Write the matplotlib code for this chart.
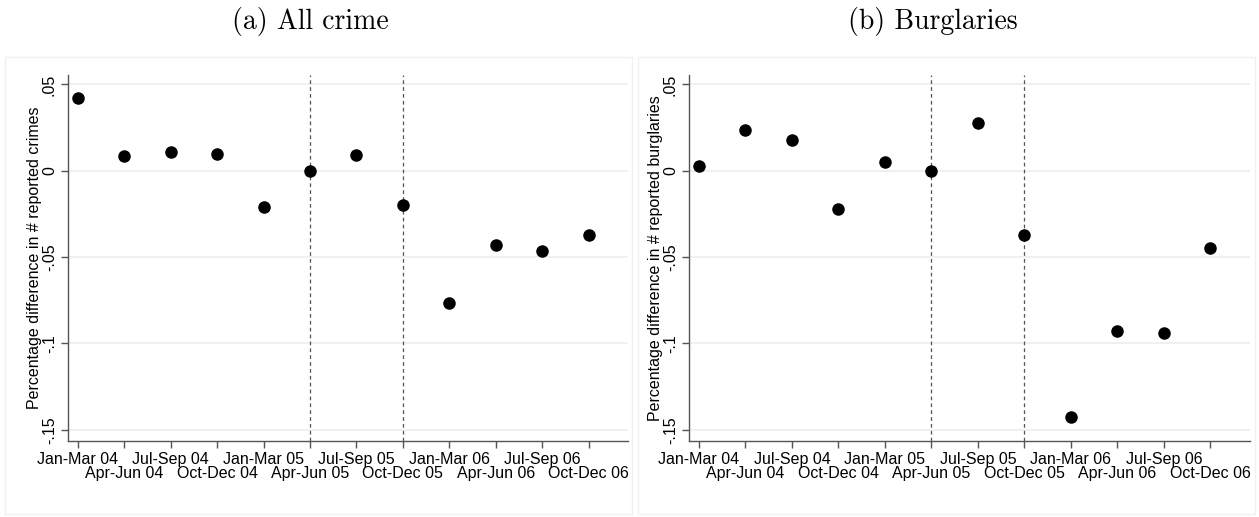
import matplotlib
matplotlib.use("Agg")
import matplotlib.pyplot as plt
from matplotlib.patches import Rectangle

quarters = ["Jan-Mar 04", "Apr-Jun 04", "Jul-Sep 04", "Oct-Dec 04",
            "Jan-Mar 05", "Apr-Jun 05", "Jul-Sep 05", "Oct-Dec 05",
            "Jan-Mar 06", "Apr-Jun 06", "Jul-Sep 06", "Oct-Dec 06"]
all_crime = [0.0422, 0.0087, 0.0110, 0.0098, -0.0208, 0.0, 0.0092, -0.0197,
             -0.0763, -0.0428, -0.0462, -0.0370]
burglaries = [0.0029, 0.0237, 0.0179, -0.0220, 0.0052, 0.0, 0.0277, -0.0370,
              -0.1428, -0.0925, -0.0942, -0.0445]
yticks = [0.05, 0.0, -0.05, -0.1, -0.15]
ytick_labels = [".05", "0", "-.05", "-.1", "-.15"]
vlines_at = ["Apr-Jun 05", "Oct-Dec 05"]
titles = ["(a) All crime", "(b) Burglaries"]
ylabels = ["Percentage difference in # reported crimes",
           "Percentage difference in # reported burglaries"]

W, H = 1259, 517
fig = plt.figure(figsize=(W / 100, H / 100), dpi=100)
fig.patch.set_facecolor("white")

def fx(px): return px / W
def fy(py): return 1 - py / H

# faint panel frames
for x0, x1 in [(5, 632), (638, 1255)]:
    fig.patches.append(Rectangle((fx(x0), fy(514)), fx(x1 - x0), (514 - 57) / H,
                                 transform=fig.transFigure, fill=False,
                                 edgecolor="#eef1f3", linewidth=1.0))

panels = [(68, 628, all_crime), (689, 1250, burglaries)]
tick_font = "Liberation Sans"
fs = 11.5
for i, (xl, xr, vals) in enumerate(panels):
    ax = fig.add_axes([fx(xl), fy(441), fx(xr - xl), (441 - 75) / H])
    x = list(range(len(quarters)))
    ax.set_xlim(-0.215, 11.85)
    ax.set_ylim(-0.1565, 0.0555)
    for yt in yticks:
        ax.axhline(yt, color="#e8f0f2", linewidth=1.2, zorder=0)
    for q in vlines_at:
        ax.axvline(quarters.index(q), color="#555555", linestyle=(0, (3, 2.5)),
                   linewidth=0.9, zorder=1)
    ax.plot(x, vals, "o", color="black", markersize=8, zorder=3)
    even = x[0::2]
    odd = x[1::2]
    ax.set_xticks(even)
    ax.set_xticklabels([quarters[k] for k in even], fontfamily=tick_font, fontsize=fs)
    ax.set_xticks(odd, minor=True)
    ax.set_xticklabels([quarters[k] for k in odd], minor=True,
                       fontfamily=tick_font, fontsize=fs)
    ax.set_yticks(yticks)
    ax.set_yticklabels(ytick_labels, rotation=90, va="center",
                       fontfamily=tick_font, fontsize=fs)
    ax.set_ylabel(ylabels[i], fontfamily=tick_font, fontsize=fs, labelpad=0)
    for s in ["top", "right"]:
        ax.spines[s].set_visible(False)
    for s in ["left", "bottom"]:
        ax.spines[s].set_color("#555555")
        ax.spines[s].set_linewidth(1.0)
    ax.tick_params(axis="both", which="both", colors="#555555", length=5,
                   width=1.0, labelcolor="black", pad=3)
    ax.tick_params(axis="x", which="minor", pad=13)
    ax.set_facecolor("white")

fig.text(fx(310), fy(22), titles[0], fontfamily="cmr10", fontsize=20,
         ha="center", va="center")
fig.text(fx(933), fy(22), titles[1], fontfamily="cmr10", fontsize=20,
         ha="center", va="center")

fig.savefig("out.png", dpi=100)
